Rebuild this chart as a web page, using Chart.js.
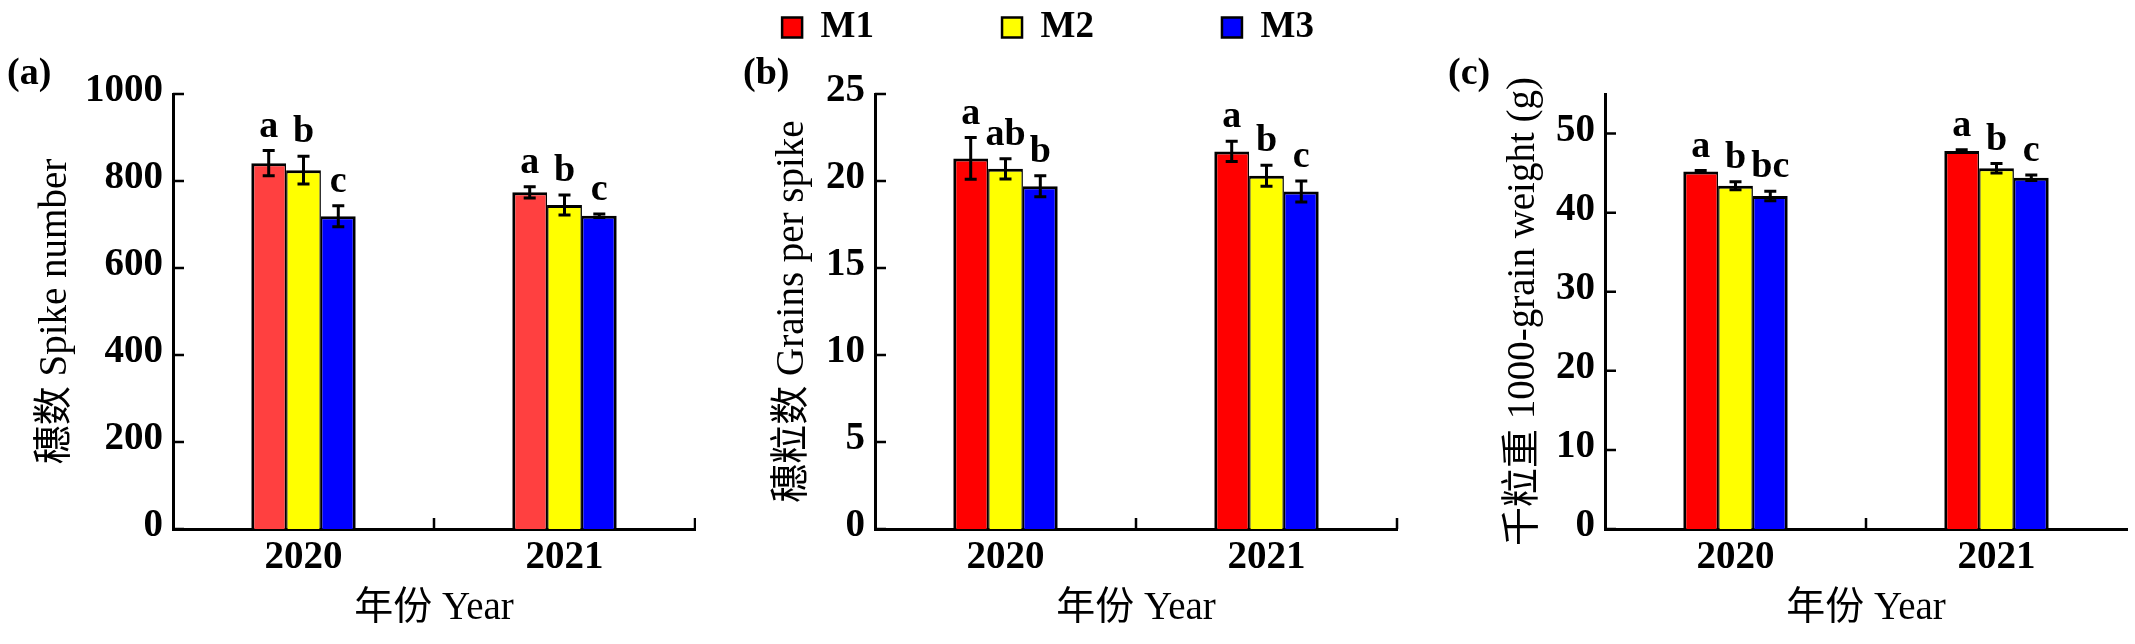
<!DOCTYPE html>
<html>
<head>
<meta charset="utf-8">
<script src="https://cdn.jsdelivr.net/npm/chart.js@4.4.1/dist/chart.umd.min.js"></script>
<style>
  html, body { margin: 0; background: #fff; }
  #page { position: relative; width: 2135px; height: 644px; overflow: hidden; background: #fff; }
  canvas { position: absolute; }
</style>
</head>
<body>
<div id="page">
  <canvas id="pa" width="696" height="644" style="left:0; top:0"></canvas>
  <canvas id="pb" width="720" height="644" style="left:696px; top:0"></canvas>
  <canvas id="pc" width="719" height="644" style="left:1416px; top:0"></canvas>
  <canvas id="legend" width="900" height="400" style="left:598px; top:-119px"></canvas>
</div>
<script>
const years = ['2020', '2021'];
const seriesNames = ['M1', 'M2', 'M3'];

// (a) 穗数 Spike number
const spikeM1 = [841, 774];
const spikeM2 = [825, 745];
const spikeM3 = [719, 720];
const spikeErrM1 = [29, 13];
const spikeErrM2 = [32, 23];
const spikeErrM3 = [24, 4];
const spikeLetM1 = ['a', 'a'];
const spikeLetM2 = ['b', 'b'];
const spikeLetM3 = ['c', 'c'];

// (b) 穗粒数 Grains per spike
const grainsM1 = [21.3, 21.7];
const grainsM2 = [20.7, 20.3];
const grainsM3 = [19.7, 19.4];
const grainsErrM1 = [1.2, 0.58];
const grainsErrM2 = [0.58, 0.6];
const grainsErrM3 = [0.6, 0.6];
const grainsLetM1 = ['a', 'a'];
const grainsLetM2 = ['ab', 'b'];
const grainsLetM3 = ['b', 'c'];

// (c) 千粒重 1000-grain weight
const weightM1 = [45.2, 47.8];
const weightM2 = [43.4, 45.6];
const weightM3 = [42.1, 44.4];
const weightErrM1 = [0.12, 0.15];
const weightErrM2 = [0.5, 0.6];
const weightErrM3 = [0.6, 0.35];
const weightLetM1 = ['a', 'a'];
const weightLetM2 = ['b', 'b'];
const weightLetM3 = ['bc', 'c'];

const FONT = "'Liberation Serif', 'Noto Sans CJK SC', serif";
const RED = '#ff0000';
const RED_A = '#ff4040';
const YELLOW = '#ffff00';
const BLUE = '#0000ff';

// bars touch each other, so split the seam borders between neighbours
const barBorders = [
    { top: 3, left: 3, right: 1.5, bottom: 0 },
    { top: 3, left: 1.5, right: 1.5, bottom: 0 },
    { top: 3, left: 1.5, right: 3, bottom: 0 },
];

// error bars, significance letters, inward ticks and the panel tag
const marks = {
    id: 'marks',
    afterDatasetsDraw(chart, args, opts) {
        const { ctx, chartArea: area, scales: { x, y } } = chart;
        ctx.save();
        ctx.strokeStyle = '#000';
        ctx.fillStyle = '#000';
        ctx.font = 'bold 38px ' + FONT;
        ctx.textAlign = 'center';
        ctx.textBaseline = 'alphabetic';
        ctx.lineWidth = 3;
        chart.data.datasets.forEach((ds, i) => {
            chart.getDatasetMeta(i).data.forEach((bar, j) => {
                const top = y.getPixelForValue(ds.data[j] + ds.errors[j]);
                const bot = y.getPixelForValue(ds.data[j] - ds.errors[j]);
                ctx.beginPath();
                ctx.moveTo(bar.x, top); ctx.lineTo(bar.x, bot);
                ctx.moveTo(bar.x - 6, top); ctx.lineTo(bar.x + 6, top);
                ctx.moveTo(bar.x - 6, bot); ctx.lineTo(bar.x + 6, bot);
                ctx.stroke();
                ctx.fillText(ds.letters[j], bar.x, top - 14);
            });
        });

        ctx.lineWidth = 2.5;
        ctx.beginPath();
        y.ticks.forEach(t => {
            const py = y.getPixelForValue(t.value);
            ctx.moveTo(area.left, py);
            ctx.lineTo(area.left + 11, py);
        });
        const step = x.getPixelForValue(1) - x.getPixelForValue(0);
        x.ticks.forEach((t, i) => {
            if (i === x.ticks.length - 1 && !opts.endTick) return;
            const px = x.getPixelForValue(i) + step / 2;
            ctx.moveTo(px, area.bottom);
            ctx.lineTo(px, area.bottom - 11);
        });
        ctx.stroke();

        ctx.textAlign = 'left';
        ctx.fillText(opts.tag, opts.tagX, opts.tagY);
        ctx.restore();
    },
};

function makePanel(id, p) {
    const colors = [p.red, YELLOW, BLUE];
    new Chart(document.getElementById(id), {
        type: 'bar',
        data: {
            labels: years,
            datasets: seriesNames.map((name, i) => ({
                label: name,
                data: p.values[i],
                errors: p.errors[i],
                letters: p.letters[i],
                backgroundColor: colors[i],
                borderColor: '#000',
                borderWidth: barBorders[i],
                borderSkipped: false,
                categoryPercentage: 0.4,
                barPercentage: 1.0,
            })),
        },
        options: {
            responsive: false,
            animation: false,
            devicePixelRatio: 1,
            layout: { padding: { left: 0, top: 94, right: p.padRight, bottom: 0 } },
            plugins: {
                legend: { display: false },
                tooltip: { enabled: false },
                marks: { tag: p.tag, tagX: p.tagX, tagY: 84, endTick: p.endTick },
            },
            scales: {
                x: {
                    offset: true,
                    grid: { display: false, drawTicks: false },
                    border: { display: true, color: '#000', width: 3 },
                    ticks: {
                        color: '#000',
                        font: { family: FONT, size: 39, weight: 'bold' },
                        padding: 6,
                        maxRotation: 0,
                    },
                    title: {
                        display: true,
                        text: '年份 Year',
                        color: '#000',
                        font: { family: FONT, size: 39 },
                        padding: { top: 0, bottom: 12 },
                    },
                    afterFit(s) { s.height = 115; },
                },
                y: {
                    min: 0,
                    max: p.max,
                    grid: { display: false, drawTicks: false },
                    border: { display: true, color: '#000', width: 3 },
                    ticks: {
                        stepSize: p.step,
                        includeBounds: false,
                        format: { useGrouping: false },
                        color: '#000',
                        font: { family: FONT, size: 39, weight: 'bold' },
                        padding: 10,
                        labelOffset: -3,
                    },
                    title: {
                        display: true,
                        text: p.yTitle,
                        color: '#000',
                        font: { family: FONT, size: 39 },
                        padding: { top: p.titlePad, bottom: 0 },
                    },
                    afterFit(s) { s.width = p.axisWidth; },
                },
            },
        },
        plugins: [marks],
    });
}

makePanel('pa', {
    values: [spikeM1, spikeM2, spikeM3],
    errors: [spikeErrM1, spikeErrM2, spikeErrM3],
    letters: [spikeLetM1, spikeLetM2, spikeLetM3],
    red: RED_A, max: 1000, step: 200,
    yTitle: '穗数 Spike number', tag: '(a)', tagX: 7,
    axisWidth: 173, padRight: 1, titlePad: 32, endTick: true,
});

makePanel('pb', {
    values: [grainsM1, grainsM2, grainsM3],
    errors: [grainsErrM1, grainsErrM2, grainsErrM3],
    letters: [grainsLetM1, grainsLetM2, grainsLetM3],
    red: RED, max: 25, step: 5,
    yTitle: '穗粒数 Grains per spike', tag: '(b)', tagX: 47,
    axisWidth: 179, padRight: 19, titlePad: 73, endTick: true,
});

makePanel('pc', {
    values: [weightM1, weightM2, weightM3],
    errors: [weightErrM1, weightErrM2, weightErrM3],
    letters: [weightLetM1, weightLetM2, weightLetM3],
    red: RED, max: 55, step: 10,
    yTitle: '千粒重 1000-grain weight (g)', tag: '(c)', tagX: 32,
    axisWidth: 189, padRight: 8, titlePad: 84, endTick: false,
});

// shared legend, its own chart with empty data
new Chart(document.getElementById('legend'), {
    type: 'bar',
    data: {
        labels: [],
        datasets: seriesNames.map((name, i) => ({
            label: name,
            data: [],
            backgroundColor: [RED, YELLOW, BLUE][i],
            borderColor: '#000',
            borderWidth: 2.5,
        })),
    },
    options: {
        responsive: false,
        animation: false,
        devicePixelRatio: 1,
        scales: { x: { display: false }, y: { display: false } },
        plugins: {
            tooltip: { enabled: false },
            legend: {
                position: 'top',
                align: 'center',
                onClick: null,
                labels: {
                    color: '#000',
                    boxWidth: 20,
                    boxHeight: 20,
                    padding: 128,
                    font: { family: FONT, size: 37, weight: 'bold' },
                },
            },
        },
    },
});
</script>
</body>
</html>
